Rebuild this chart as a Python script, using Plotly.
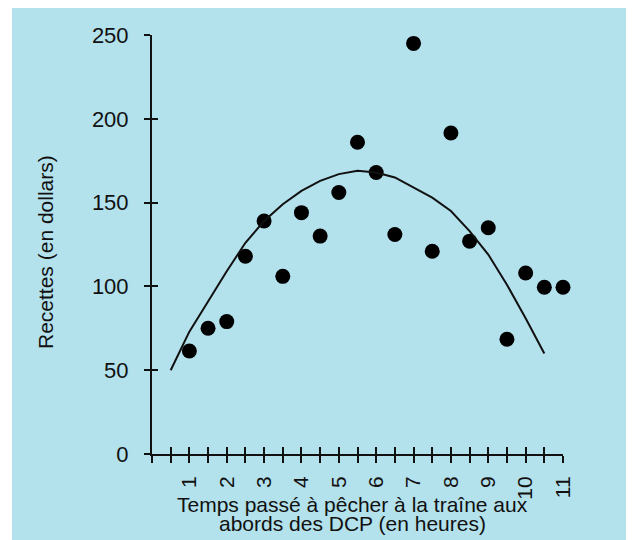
import plotly.graph_objects as go

# Observed data (hours of trolling around FADs vs revenue)
hours = [1, 1.5, 2, 2.5, 3, 3.5, 4, 4.5, 5, 5.5, 6, 6.5, 7, 7.5, 8, 8.5, 9, 9.5, 10, 10.5, 11]
revenue = [61.5, 75, 79, 118, 139, 106, 144, 130, 156, 186, 168, 131, 245, 121, 191.5, 127, 135, 68.5, 108, 99.5, 99.5]

# Fitted curve
fit_hours = [0.5, 1, 1.5, 2, 2.5, 3, 3.5, 4, 4.5, 5, 5.5, 6, 6.5, 7, 7.5, 8, 8.5, 9, 9.5, 10, 10.5]
fit_revenue = [50, 73, 91, 109, 126, 139, 149, 157, 163, 167, 169, 168, 165, 159, 153, 145, 133, 119, 101, 81, 60]

x_tickvals = [0, 0.5, 1, 1.5, 2, 2.5, 3, 3.5, 4, 4.5, 5, 5.5, 6, 6.5, 7, 7.5, 8, 8.5, 9, 9.5, 10, 10.5, 11]
x_ticktext = ["", "", "1", "", "2", "", "3", "", "4", "", "5", "", "6", "", "7", "", "8", "", "9", "", "10", "", "11"]
y_tickvals = [0, 50, 100, 150, 200, 250]

x_title_lines = ["Temps passé à pêcher à la traîne aux", "abords des DCP (en heures)"]
y_title = "Recettes (en dollars)"

BG = "#b3e1ec"
FONT = "Liberation Sans, Arial, sans-serif"
TXT = "#111111"

W, H = 626, 532
L, R, T, B = 144, 71, 27, 86
PW, PH = W - L - R, H - T - B

fig = go.Figure()
fig.add_trace(go.Scatter(x=fit_hours, y=fit_revenue, mode="lines",
                         line=dict(color=TXT, width=2),
                         xaxis="x2", yaxis="y2", hoverinfo="skip", showlegend=False))
fig.add_trace(go.Scatter(x=hours, y=revenue, mode="markers",
                         marker=dict(color="#000000", size=15),
                         cliponaxis=False, showlegend=False))

annotations = [
    dict(text=x_title_lines[0], xref="paper", yref="paper", x=(352.5 - 8 - L) / PW, y=(T + PH - 496) / PH,
         xanchor="center", yanchor="middle", showarrow=False, font=dict(size=21, family=FONT, color=TXT)),
    dict(text=x_title_lines[1], xref="paper", yref="paper", x=(352.5 - 8 - L) / PW, y=(T + PH - 515) / PH,
         xanchor="center", yanchor="middle", showarrow=False, font=dict(size=21, family=FONT, color=TXT)),
    dict(text=y_title, xref="paper", yref="paper", x=(45 - 8 - L) / PW, y=(T + PH - 244) / PH,
         xanchor="center", yanchor="middle", textangle=-90, showarrow=False,
         font=dict(size=21, family=FONT, color=TXT)),
]

fig.update_layout(
    width=W, height=H,
    margin=dict(l=L, r=R, t=T, b=B),
    paper_bgcolor="white",
    plot_bgcolor="rgba(0,0,0,0)",
    font=dict(family=FONT, color=TXT),
    annotations=annotations,
    shapes=[dict(type="rect", xref="paper", yref="paper",
                 x0=(4 - L) / PW, x1=(W + 20 - L) / PW,
                 y0=-(B + 20) / PH, y1=(PH + T + 20) / PH,
                 fillcolor=BG, line=dict(width=0), layer="below")],
    xaxis=dict(range=[0, 11], tickmode="array", tickvals=x_tickvals, ticktext=x_ticktext,
               tickangle=-90, ticks="outside", ticklen=7, tickwidth=2, tickcolor=TXT,
               showline=True, linecolor=TXT, linewidth=2, showgrid=False, zeroline=False,
               tickfont=dict(size=21, family=FONT, color=TXT), ticklabelstandoff=5),
    yaxis=dict(range=[0, 250], tickmode="array", tickvals=y_tickvals,
               ticks="outside", ticklen=6, tickwidth=2, tickcolor=TXT,
               showline=True, linecolor=TXT, linewidth=2, showgrid=False, zeroline=False,
               tickfont=dict(size=22, family=FONT, color=TXT), ticklabelstandoff=11),
    xaxis2=dict(range=[0, 11], overlaying="x", anchor="y2", side="bottom",
                tickmode="array", tickvals=x_tickvals, ticks="inside", ticklen=7, tickwidth=2,
                tickcolor=TXT, showticklabels=False, showline=False, showgrid=False, zeroline=False),
    yaxis2=dict(range=[0, 250], overlaying="y", anchor="x2", side="left",
                tickmode="array", tickvals=y_tickvals, ticks="inside", ticklen=6, tickwidth=2,
                tickcolor=TXT, showticklabels=False, showline=False, showgrid=False, zeroline=False),
)

fig.write_html("out.html")
